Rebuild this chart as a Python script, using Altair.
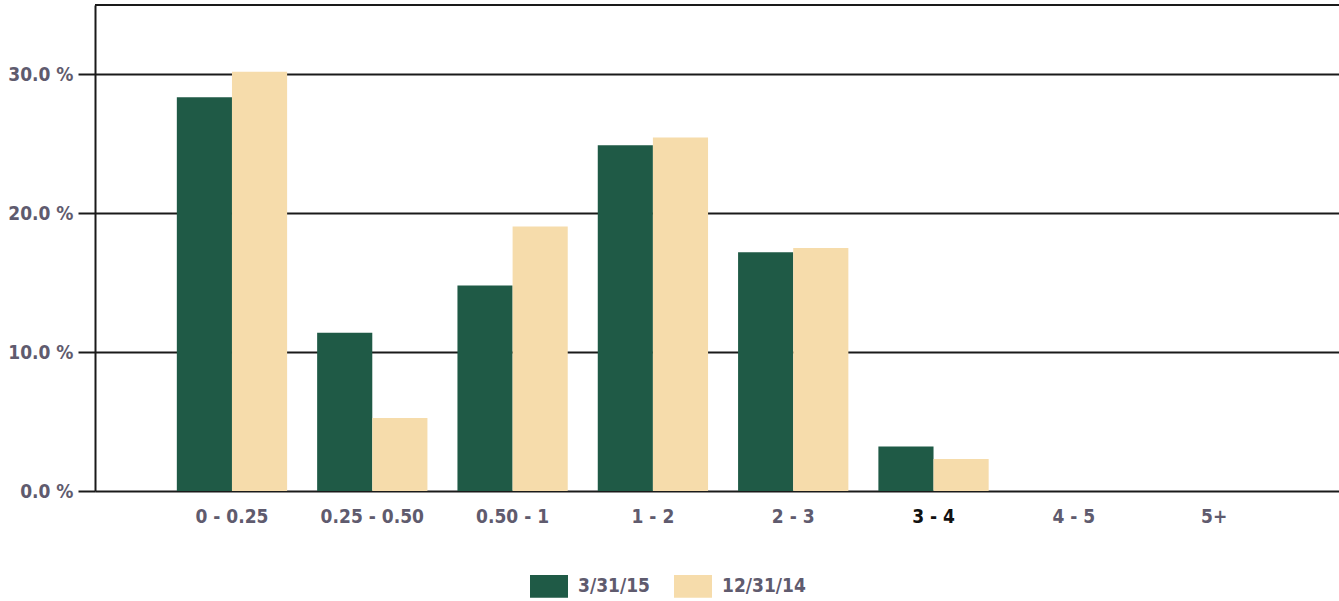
import altair as alt
import pandas as pd

categories = ["0 - 0.25", "0.25 - 0.50", "0.50 - 1", "1 - 2", "2 - 3", "3 - 4", "4 - 5", "5+"]
series_names = ["3/31/15", "12/31/14"]
values_mar15 = [28.35, 11.4, 14.8, 24.9, 17.2, 3.2, 0.0, 0.0]
values_dec14 = [30.2, 5.25, 19.05, 25.45, 17.5, 2.3, 0.0, 0.0]
y_ticks = [0, 10, 20, 30]
colors = ["#1f5a46", "#f6dcab"]

rows = []
for c, a, b in zip(categories, values_mar15, values_dec14):
    rows.append({"cat": c, "series": series_names[0], "val": a})
    rows.append({"cat": c, "series": series_names[1], "val": b})
df = pd.DataFrame(rows)

FONT = "DejaVu Sans Condensed, DejaVu Sans"
TXT = "#5f5b6e"

bars = alt.Chart(df).mark_bar().encode(
    x=alt.X("cat:N", sort=categories, title=None,
            scale=alt.Scale(paddingInner=0.214, paddingOuter=0.54, align=0.54),
            axis=alt.Axis(labelAngle=0, ticks=False, domain=False, grid=False,
                          labelPadding=16, labelFontSize=19, labelFont=FONT,
                          labelFontWeight="bold",
                          labelColor={"condition": {"test": "datum.value == '3 - 4'", "value": "#111111"}, "value": TXT})),
    xOffset=alt.XOffset("series:N", sort=series_names),
    y=alt.Y("val:Q", title=None,
            scale=alt.Scale(domain=[0, 35], nice=False),
            axis=alt.Axis(values=y_ticks, labelExpr="format(datum.value, '.1f') + ' %'",
                          grid=True, gridColor="#1a1a1a", gridWidth=2,
                          domain=True, domainColor="#1a1a1a", domainWidth=2,
                          tickColor="#1a1a1a", tickWidth=2, tickSize=17,
                          labelPadding=5, labelFontSize=19, labelFont=FONT,
                          labelFontWeight="bold", labelColor=TXT)),
    color=alt.Color("series:N", sort=series_names,
                    scale=alt.Scale(domain=series_names, range=colors),
                    legend=alt.Legend(title=None, orient="none", direction="horizontal",
                                      legendX=435, legendY=562,
                                      symbolType="M-1,-0.6 L1,-0.6 L1,0.6 L-1,0.6 Z",
                                      symbolSize=1444, symbolStrokeWidth=0,
                                      labelFont=FONT, labelFontSize=19, labelColor=TXT,
                                      labelFontWeight="bold",
                                      labelOffset=10, columnPadding=24)),
)

top_df = pd.DataFrame({"v": [35]})
top_rule = alt.Chart(top_df).mark_rule(color="#1a1a1a", strokeWidth=2).encode(y="v:Q")

chart = alt.layer(bars, top_rule).properties(
    width=1244, height=486,
    autosize=alt.AutoSizeParams(type="none"),
    padding={"left": 95, "top": 5, "right": 0, "bottom": 110},
).configure_view(stroke=None).configure(background="white")

chart.save("out.html", embed_options={"renderer": "svg", "actions": False})
